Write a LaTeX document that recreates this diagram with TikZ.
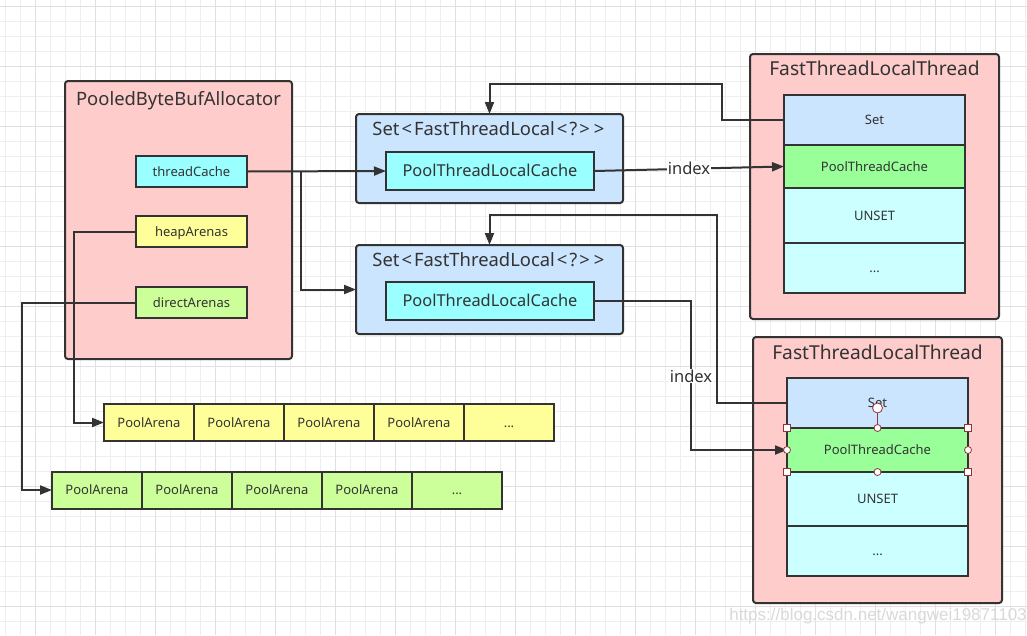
\documentclass[tikz,border=0pt]{standalone}
\usepackage{fontspec}
\setmainfont{Noto Sans}
\newfontfamily\wmfont{Liberation Sans}
\usetikzlibrary{arrows.meta,calc}
\newcommand\arenadots{...}
\newcommand\ltb{\kern2pt<\kern2pt}
\newcommand\gtb{\kern2pt>\kern2pt}
\definecolor{ink}{HTML}{333333}
\definecolor{txt}{HTML}{333333}
\definecolor{pinkbg}{HTML}{FFCCCC}
\definecolor{cyanbg}{HTML}{99FFFF}
\definecolor{yellowbg}{HTML}{FFFF99}
\definecolor{limebg}{HTML}{CCFF99}
\definecolor{bluebg}{HTML}{CCE5FF}
\definecolor{greenbg}{HTML}{99FF99}
\definecolor{palecyan}{HTML}{CCFFFF}
\definecolor{gridminor}{HTML}{EEEEEE}
\definecolor{gridmajor}{HTML}{E0E0E0}
\definecolor{handlec}{HTML}{993333}
\tikzset{
  container/.style={draw=ink, line width=2pt, rounded corners=3pt, inner sep=0pt, outer sep=0pt},
  cell/.style={draw=ink, line width=2pt, inner sep=0pt, outer sep=0pt, text=txt, font=\fontsize{13}{15}\selectfont, text height=10pt, text depth=0.5pt},
  bigcell/.style={cell, font=\fontsize{16.4}{18}\selectfont, text height=12.5pt, text depth=1pt},
  ttl/.style={text=txt, inner sep=0pt, font=\fontsize{18.4}{21}\selectfont},
  conn/.style={draw=ink, line width=2pt, -{Triangle[length=12pt,width=9pt]}},
  plainconn/.style={draw=ink, line width=2pt},
  lbl/.style={fill=white, text=txt, inner sep=1pt, font=\fontsize{16.5}{18}\selectfont},
  handlesq/.style={draw=handlec, fill=white, line width=0.8pt, minimum size=7pt, inner sep=0pt},
  handlecirc/.style={draw=handlec, fill=white, line width=0.8pt, circle, minimum size=7pt, inner sep=0pt},
}
\begin{document}
\begin{tikzpicture}[x=1pt,y=-1pt]
\useasboundingbox (0,0) rectangle (1027,635);
\fill[white] (0,0) rectangle (1027,635);
% grid
\foreach \gx in {5,20,...,1025} {\draw[gridminor, line width=1pt] (\gx,0) -- (\gx,635);}
\foreach \gy in {6,21,...,635} {\draw[gridminor, line width=1pt] (0,\gy) -- (1027,\gy);}
\foreach \gx in {35,95,...,1025} {\draw[gridmajor, line width=1pt] (\gx,0) -- (\gx,635);}
\foreach \gy in {6,66,...,635} {\draw[gridmajor, line width=1pt] (0,\gy) -- (1027,\gy);}

% PooledByteBufAllocator
\node[container, fill=pinkbg, minimum width=227pt, minimum height=278pt] (alloc) at (178.5,220) {};
\node[ttl] (allocT) at (178.5,101) {PooledByteBufAllocator};
\node[cell, fill=cyanbg, minimum width=111pt, minimum height=31pt] (tc) at (191.5,171.5) {threadCache};
\node[cell, fill=yellowbg, minimum width=111pt, minimum height=31pt] (ha) at (191.5,231.5) {heapArenas};
\node[cell, fill=limebg, minimum width=111pt, minimum height=31pt] (da) at (191.5,302.5) {directArenas};

% Set boxes
\node[container, fill=bluebg, minimum width=267pt, minimum height=89pt] (set1) at (489.5,158.5) {};
\node[ttl] (set1T) at (489.5,129) {Set\ltb FastThreadLocal\ltb ?\gtb\gtb};
\node[bigcell, fill=cyanbg, minimum width=208pt, minimum height=38pt] (ptlc1) at (490,171) {PoolThreadLocalCache};
\node[container, fill=bluebg, minimum width=267pt, minimum height=89pt] (set2) at (489.5,289.5) {};
\node[ttl] (set2T) at (489.5,260) {Set\ltb FastThreadLocal\ltb ?\gtb\gtb};
\node[bigcell, fill=cyanbg, minimum width=208pt, minimum height=38pt] (ptlc2) at (490,301) {PoolThreadLocalCache};

% Thread 1
\node[container, fill=pinkbg, minimum width=249pt, minimum height=265pt] (th1) at (874.5,186.5) {};
\node[ttl, font=\fontsize{19.2}{21}\selectfont] (th1T) at (874.5,68) {FastThreadLocalThread};
\node[cell, fill=bluebg, minimum width=181pt, minimum height=50pt] (s1row) at (874.5,120) {Set};
\node[cell, fill=greenbg, minimum width=181pt, minimum height=43pt] (ptc1) at (874.5,166.5) {PoolThreadCache};
\node[cell, fill=palecyan, minimum width=181pt, minimum height=55pt] (un1) at (874.5,215.5) {UNSET};
\node[cell, fill=palecyan, minimum width=181pt, minimum height=50pt] (dt1) at (874.5,268) {\arenadots};

% Thread 2
\node[container, fill=pinkbg, minimum width=249pt, minimum height=266pt] (th2) at (877.5,470) {};
\node[ttl, font=\fontsize{19.2}{21}\selectfont] (th2T) at (877.5,352) {FastThreadLocalThread};
\node[cell, fill=bluebg, minimum width=181pt, minimum height=50pt] (s2row) at (877.5,403) {Set};
\node[cell, fill=palecyan, minimum width=181pt, minimum height=54pt] (un2) at (877.5,499) {UNSET};
\node[cell, fill=palecyan, minimum width=181pt, minimum height=50pt] (dt2) at (877.5,551) {\arenadots};
\node[cell, fill=greenbg, minimum width=181pt, minimum height=44pt] (ptc2) at (877.5,450) {PoolThreadCache};

% Arenas
\foreach \i/\cx/\t in {1/149/PoolArena,2/239/PoolArena,3/329/PoolArena,4/419/PoolArena,5/509/\arenadots}
  \node[cell, fill=yellowbg, minimum width=90pt, minimum height=37pt] (ya\i) at (\cx,422.5) {\t};
\foreach \i/\cx/\t in {1/97/PoolArena,2/187/PoolArena,3/277/PoolArena,4/367/PoolArena,5/457/\arenadots}
  \node[cell, fill=limebg, minimum width=90pt, minimum height=37pt] (ga\i) at (\cx,490) {\t};

% connectors
\draw[conn] (tc.east) -- (ptlc1.west);
\coordinate (j1) at (301,171.5);
\draw[conn] (j1) |- (set2.west);
\draw[conn] (ha.west) -- ++(-62,0) |- (ya1.west);
\draw[conn] (da.west) -- ++(-114,0) |- (ga1.west);
\draw[conn] (s1row.west) -| (722,84) -| (set1.north);
\draw[conn] (ptlc1.east) -- node[lbl] (idx1) {index} (ptc1.west);
\draw[conn] (s2row.west) -| (717,215) -| (set2.north);
\draw[plainconn] (ptlc2.east) -| (691,376);
\draw[conn] (691,376) |- (ptc2.west);
\node[lbl] (idx2) at (691,376) {index};

% selection handles
\draw[handlec, line width=0.8pt] (ptc2.north) -- ++(0,-15);
\node[handlecirc, minimum size=10pt] (rot) at ($(ptc2.north)+(0,-20)$) {};
\node[handlesq] (hnw) at (ptc2.north west) {};
\node[handlesq] (hne) at (ptc2.north east) {};
\node[handlesq] (hsw) at (ptc2.south west) {};
\node[handlesq] (hse) at (ptc2.south east) {};
\node[handlecirc] (hn) at (ptc2.north) {};
\node[handlecirc] (hs) at (ptc2.south) {};
\node[handlecirc] (hw) at (ptc2.west) {};
\node[handlecirc] (he) at (ptc2.east) {};

% watermark
\node[text=gray!30, font=\wmfont\fontsize{17}{19}\selectfont, inner sep=0pt] (wm) at (878,616) {https://blog.csdn.net/wangwei19871103};
\end{tikzpicture}
\end{document}
